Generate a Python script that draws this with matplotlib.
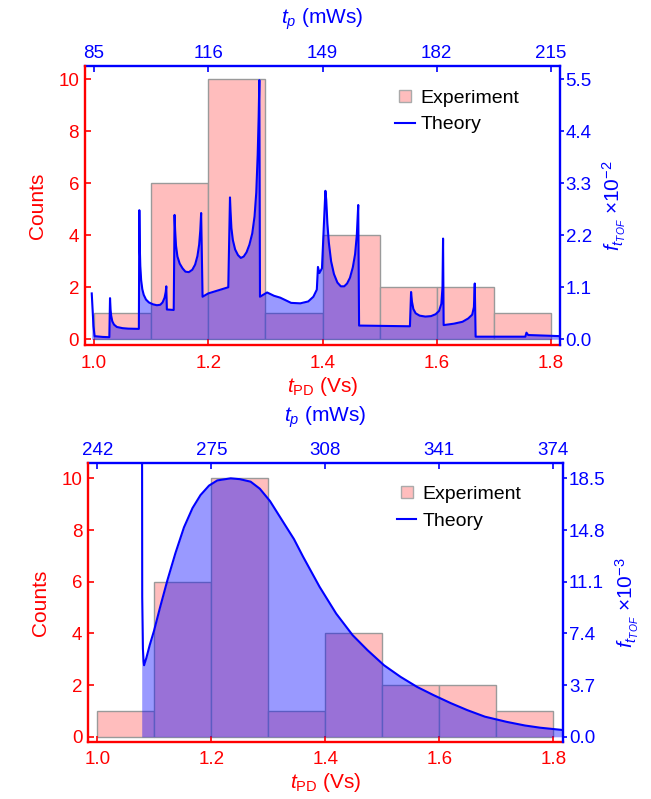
import numpy as np
import matplotlib
matplotlib.use('Agg')
import matplotlib.pyplot as plt
from matplotlib.lines import Line2D

plt.rcParams['font.family'] = ['Liberation Sans', 'DejaVu Sans']
plt.rcParams['mathtext.fontset'] = 'custom'
plt.rcParams['mathtext.rm'] = 'Liberation Sans'
plt.rcParams['mathtext.it'] = 'Liberation Sans:italic'

# histogram of measured switching times (counts per 0.1 Vs bin)
bin_edges = [1.0, 1.1, 1.2, 1.3, 1.4, 1.5, 1.6, 1.7, 1.8]
counts_top = [1, 6, 10, 1, 4, 2, 2, 1]
counts_bottom = [1, 6, 10, 1, 4, 2, 2, 1]

tpd_ticks = [1.0, 1.2, 1.4, 1.6, 1.8]
tp_labels_top = ['85', '116', '149', '182', '215']
tp_labels_bottom = ['242', '275', '308', '341', '374']
f_ticks_top = [0.0, 1.1, 2.2, 3.3, 4.4, 5.5]
f_ticks_bottom = [0.0, 3.7, 7.4, 11.1, 14.8, 18.5]

# theory curve, upper panel (f in units of 1e-2)
theory_x_top = [0.9960, 0.9990, 1.0010, 1.0150, 1.0268, 1.0280, 1.0290, 1.0300, 1.0320,
                1.0350, 1.0400, 1.0500, 1.0600, 1.0785, 1.0793, 1.0800, 1.0810, 1.0825,
                1.0845, 1.0870, 1.0910, 1.0960, 1.1030, 1.1100, 1.1160, 1.1200, 1.1235,
                1.1255, 1.1265, 1.1275, 1.1395, 1.1410, 1.1420, 1.1435, 1.1460, 1.1500,
                1.1550, 1.1600, 1.1660, 1.1720, 1.1770, 1.1810, 1.1840, 1.1860, 1.1875,
                1.1900, 1.2000, 1.2350, 1.2380, 1.2390, 1.2405, 1.2430, 1.2470, 1.2520,
                1.2570, 1.2620, 1.2670, 1.2720, 1.2770, 1.2810, 1.2840, 1.2865, 1.2882,
                1.2894, 1.2905, 1.3030, 1.3150, 1.3260, 1.3450, 1.3610, 1.3750, 1.3840,
                1.3900, 1.3920, 1.3945, 1.3990, 1.4050, 1.4065, 1.4085, 1.4110, 1.4150,
                1.4200, 1.4260, 1.4320, 1.4380, 1.4430, 1.4480, 1.4530, 1.4570, 1.4600,
                1.4625, 1.4640, 1.5530, 1.5550, 1.5565, 1.5590, 1.5630, 1.5700, 1.5800,
                1.5900, 1.5980, 1.6040, 1.6080, 1.6100, 1.6110, 1.6120, 1.6300, 1.6450,
                1.6550, 1.6620, 1.6650, 1.6665, 1.6680, 1.7550, 1.7570, 1.7600, 1.8170]
theory_f_top = [0.97, 0.28, 0.066, 0.05, 0.044, 0.87, 0.62, 0.50, 0.38,
                0.31, 0.26, 0.235, 0.225, 0.22, 2.73, 2.00, 1.55, 1.25,
                1.06, 0.94, 0.84, 0.78, 0.74, 0.72, 0.73, 0.78, 0.88,
                1.00, 1.12, 0.63, 0.62, 2.63, 2.30, 1.98, 1.75, 1.60,
                1.50, 1.43, 1.42, 1.47, 1.58, 1.76, 2.00, 2.30, 2.67,
                0.90, 0.97, 1.10, 3.00, 2.70, 2.35, 2.10, 1.90, 1.78,
                1.72, 1.75, 1.84, 2.00, 2.24, 2.60, 3.10, 3.90, 4.70,
                5.48, 0.90, 0.99, 0.92, 0.88, 0.77, 0.76, 0.80, 0.90,
                1.05, 1.53, 1.40, 1.50, 3.14, 2.95, 2.45, 2.05, 1.65,
                1.38, 1.20, 1.12, 1.12, 1.18, 1.30, 1.52, 1.80, 2.20,
                2.84, 0.29, 0.275, 1.00, 0.80, 0.64, 0.55, 0.50, 0.48,
                0.49, 0.53, 0.60, 0.75, 1.10, 2.13, 0.30, 0.33, 0.37,
                0.44, 0.52, 0.68, 1.18, 0.055, 0.055, 0.14, 0.09, 0.066]

# theory curve, lower panel (f in units of 1e-3)
theory_x_bottom = [1.0779, 1.0788, 1.0800, 1.0812, 1.0820, 1.0860, 1.0920, 1.0995, 1.1100,
                   1.1230, 1.1370, 1.1520, 1.1670, 1.1810, 1.1960, 1.2105, 1.2340, 1.2500,
                   1.2690, 1.2850, 1.3030, 1.3275, 1.3450, 1.3610, 1.3900, 1.4190, 1.4480,
                   1.4740, 1.5030, 1.5320, 1.5610, 1.5900, 1.6200, 1.6490, 1.6800, 1.7180,
                   1.7500, 1.7770, 1.8180]
theory_f_bottom = [46.0, 10.0, 6.30, 5.40, 5.12, 5.64, 6.57, 7.59, 9.25,
                   11.21, 13.14, 14.99, 16.37, 17.30, 17.98, 18.35, 18.50, 18.44,
                   18.26, 17.76, 16.87, 15.28, 14.15, 12.89, 10.73, 8.82, 7.27,
                   6.20, 5.12, 4.29, 3.57, 2.98, 2.41, 1.91, 1.44, 1.07,
                   0.81, 0.65, 0.48]

fig = plt.figure(figsize=(6.51, 7.99), dpi=100)

def panel(rect, xlim, ylim, fscale, counts, tx, tf, tp_labels, f_ticks, f_exp, leg_xy):
    ax = fig.add_axes(rect)
    ax.bar(bin_edges[:-1], counts, width=0.1, align='edge',
           color='#FFBDBD', edgecolor='#9a9a9a', linewidth=1.0, zorder=1)
    ax.set_xlim(xlim)
    ax.set_ylim(ylim)
    ax.set_xticks(tpd_ticks)
    ax.set_xticklabels(['%.1f' % t for t in tpd_ticks])
    ax.set_yticks(range(0, 11, 2))
    ax.tick_params(axis='both', colors='red', direction='in', labelsize=13.5,
                   length=4, width=1.2)
    ax.tick_params(axis='x', pad=7)
    ax.tick_params(axis='y', pad=4)
    for s in ['left', 'bottom']:
        ax.spines[s].set_color('red')
        ax.spines[s].set_linewidth(1.7)
    for s in ['top', 'right']:
        ax.spines[s].set_visible(False)
    ax.set_xlabel(r'$t_{\mathrm{PD}}$ (Vs)', color='red', fontsize=15, labelpad=2)
    ax.set_ylabel('Counts', color='red', fontsize=15, labelpad=8)

    axr = ax.twinx()
    axr.set_ylim(ylim[0] * fscale, ylim[1] * fscale)
    axr.fill_between(tx, 0, tf, color='blue', alpha=0.4, linewidth=0)
    axr.plot(tx, tf, color='blue', linewidth=1.5)
    axr.set_yticks(f_ticks)
    axr.set_yticklabels(['%.1f' % t for t in f_ticks])
    axr.tick_params(axis='y', colors='blue', direction='out', labelsize=13.5,
                    length=3, width=1.2, pad=1)
    for s in ['left', 'bottom', 'top']:
        axr.spines[s].set_visible(False)
    axr.spines['right'].set_color('blue')
    axr.spines['right'].set_linewidth(1.7)
    axr.set_ylabel(r'$f_{t_{TOF}}$ ×10$^{%d}$' % f_exp, color='blue', fontsize=15, labelpad=6)

    sec = ax.secondary_xaxis('top')
    sec.set_xticks(tpd_ticks, labels=tp_labels)
    sec.tick_params(colors='blue', direction='in', labelsize=13.5, length=4, width=1.2, pad=3)
    sec.spines['top'].set_color('blue')
    sec.spines['top'].set_linewidth(1.7)
    sec.set_xlabel(r'$t_p$ (mWs)', color='blue', fontsize=15, labelpad=15)

    handles = [Line2D([], [], marker='s', linestyle='none', markersize=9,
                      markerfacecolor='#FFBDBD', markeredgecolor='#aaaaaa'),
               Line2D([], [], color='blue', linewidth=1.5)]
    axr.legend(handles, ['Experiment', 'Theory'], loc='upper left', bbox_to_anchor=leg_xy,
               frameon=False, fontsize=14, handlelength=1.0, handletextpad=0.3,
               borderaxespad=0, borderpad=0, labelspacing=0.45)
    return ax, axr

panel([0.130, 0.5682, 0.7303, 0.3496], (0.98355, 1.8158), (-0.22, 10.52), 0.55,
      counts_top, theory_x_top, theory_f_top, tp_labels_top, f_ticks_top, -2, (0.653, 0.915))
panel([0.1352, 0.0717, 0.7301, 0.3484], (0.9837, 1.8175), (-0.19, 10.58), 1.85,
      counts_bottom, theory_x_bottom, theory_f_bottom, tp_labels_bottom, f_ticks_bottom, -3,
      (0.650, 0.92))

fig.savefig('out.png', dpi=100)
